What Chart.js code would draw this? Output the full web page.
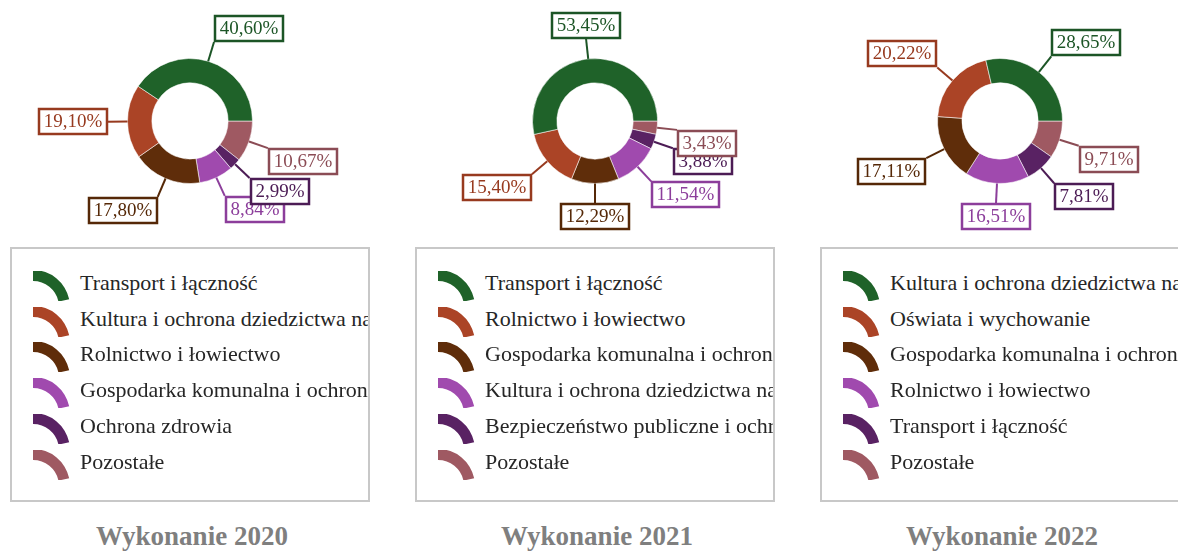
<!DOCTYPE html>
<html>
<head>
<meta charset="utf-8">
<script src="https://cdn.jsdelivr.net/npm/chart.js@4"></script>
<style>
  body { margin: 0; background: #fff; width: 1178px; height: 553px; overflow: hidden; position: relative;
         font-family: "Liberation Serif", "Times New Roman", serif; }
  .panel { position: absolute; top: 0; width: 390px; height: 553px; }
  .panel canvas.pie { position: absolute; left: 0; top: 0; }
  .legend { position: absolute; left: 10px; top: 247px; width: 356px; height: 251px;
            border: 2px solid #c8c8c8; overflow: hidden; background: #fff; }
  .item { position: absolute; left: 0; width: 100%; height: 36px; }
  .item canvas { position: absolute; left: 21px; top: 6px; }
  .item span { position: absolute; left: 68px; top: 0; line-height: 36px; font-size: 22px; color: #262626; white-space: nowrap; }
  .title { position: absolute; left: 0; width: 384px; top: 521px; line-height: 30px; text-align: center;
           font-weight: bold; font-size: 27px; color: #7f7f7f; }
</style>
</head>
<body>
<div id="root"></div>
<script>
// kolory wycinków (te same dla każdego roku) i ramek etykiet
const sliceColors = ['#1f6229', '#ab4426', '#5f2d0a', '#a04aae', '#592263', '#9f5962'];
const labelColors = ['#1c5526', '#973a1f', '#552807', '#8c3e9b', '#4c1c55', '#8b4c55'];

const categories2020 = ['Transport i łączność', 'Kultura i ochrona dziedzictwa narodowego', 'Rolnictwo i łowiectwo',
  'Gospodarka komunalna i ochrona środowiska', 'Ochrona zdrowia', 'Pozostałe'];
const values2020 = [40.60, 19.10, 17.80, 8.84, 2.99, 10.67];

const categories2021 = ['Transport i łączność', 'Rolnictwo i łowiectwo', 'Gospodarka komunalna i ochrona środowiska',
  'Kultura i ochrona dziedzictwa narodowego', 'Bezpieczeństwo publiczne i ochrona przeciwpożarowa', 'Pozostałe'];
const values2021 = [53.45, 15.40, 12.29, 11.54, 3.88, 3.43];

const categories2022 = ['Kultura i ochrona dziedzictwa narodowego', 'Oświata i wychowanie',
  'Gospodarka komunalna i ochrona środowiska', 'Rolnictwo i łowiectwo', 'Transport i łączność', 'Pozostałe'];
const values2022 = [28.65, 20.22, 17.11, 16.51, 7.81, 9.71];

const titles = ['Wykonanie 2020', 'Wykonanie 2021', 'Wykonanie 2022'];

// etykiety z linią odniesienia i ramką
const calloutPlugin = {
  id: 'callouts',
  afterDatasetsDraw(chart) {
    const ctx = chart.ctx;
    const meta = chart.getDatasetMeta(0);
    const ds = chart.data.datasets[0];
    const n = meta.data.length;
    ctx.save();
    ctx.font = '19px "Liberation Serif", serif';
    ctx.textBaseline = 'middle';
    ctx.textAlign = 'center';
    // rysujemy w kolejności oryginalnej (dane są odwrócone)
    for (let i = n - 1; i >= 0; i--) {
      const arc = meta.data[i];
      const p = arc.getProps(['x', 'y', 'startAngle', 'endAngle', 'outerRadius'], true);
      const mid = (p.startAngle + p.endAngle) / 2;
      const dx = Math.cos(mid), dy = Math.sin(mid);
      const sx = p.x + dx * p.outerRadius, sy = p.y + dy * p.outerRadius;
      const ex = p.x + dx * (p.outerRadius + 20), ey = p.y + dy * (p.outerRadius + 20);
      const orig = n - 1 - i;
      const text = ds.data[i].toFixed(2).replace('.', ',') + '%';
      const w = Math.round(ctx.measureText(text).width) + 11, h = 27;
      const bx = Math.round(Math.abs(dx) < 0.15 ? ex - w / 2 : (dx > 0 ? ex : ex - w));
      const by = Math.round(Math.abs(dy) < 0.05 ? ey - h / 2 : (dy < 0 ? ey - h : ey));

      ctx.strokeStyle = labelColors[orig];
      ctx.lineWidth = 2;
      ctx.beginPath();
      ctx.moveTo(sx, sy);
      ctx.lineTo(ex, ey);
      ctx.stroke();

      ctx.fillStyle = '#fff';
      ctx.fillRect(bx, by, w, h);
      ctx.lineWidth = 2.5;
      ctx.strokeRect(bx + 1, by + 1, w - 2, h - 2);
      ctx.fillStyle = labelColors[orig];
      ctx.fillText(text, bx + w / 2, by + h / 2 + 1);
    }
    ctx.restore();
  }
};

function drawIcon(canvas, color) {
  const c = canvas.getContext('2d');
  c.fillStyle = color;
  c.beginPath();
  c.arc(0, 36, 37, -Math.PI / 2, -12 * Math.PI / 180);
  c.arc(0, 36, 26, -12 * Math.PI / 180, -Math.PI / 2, true);
  c.closePath();
  c.fill();
}

function createPanel(left, categories, values, title) {
  const panel = document.createElement('div');
  panel.className = 'panel';
  panel.style.left = left + 'px';
  document.getElementById('root').appendChild(panel);

  const canvas = document.createElement('canvas');
  canvas.className = 'pie';
  canvas.width = 390;
  canvas.height = 245;
  panel.appendChild(canvas);

  new Chart(canvas.getContext('2d'), {
    type: 'doughnut',
    data: {
      labels: categories.slice().reverse(),
      datasets: [{
        data: values.slice().reverse(),
        backgroundColor: sliceColors.slice().reverse(),
        borderColor: 'rgba(255,255,255,0.55)',
        borderWidth: 1,
        hoverOffset: 0
      }]
    },
    options: {
      responsive: false,
      animation: false,
      devicePixelRatio: 1,
      rotation: 90,
      cutout: '61%',
      layout: { padding: { left: 0, right: 10, top: 58, bottom: 61 } },
      plugins: {
        legend: { display: false },
        tooltip: { enabled: false }
      }
    },
    plugins: [calloutPlugin]
  });

  const legend = document.createElement('div');
  legend.className = 'legend';
  categories.forEach((cat, i) => {
    const item = document.createElement('div');
    item.className = 'item';
    item.style.top = (16 + i * 35.7) + 'px';
    const ic = document.createElement('canvas');
    ic.width = 40;
    ic.height = 30;
    drawIcon(ic, sliceColors[i]);
    const span = document.createElement('span');
    span.textContent = cat;
    item.appendChild(ic);
    item.appendChild(span);
    legend.appendChild(item);
  });
  panel.appendChild(legend);

  const t = document.createElement('div');
  t.className = 'title';
  t.textContent = title;
  panel.appendChild(t);
}

createPanel(0, categories2020, values2020, titles[0]);
createPanel(405, categories2021, values2021, titles[1]);
createPanel(810, categories2022, values2022, titles[2]);
</script>
</body>
</html>
